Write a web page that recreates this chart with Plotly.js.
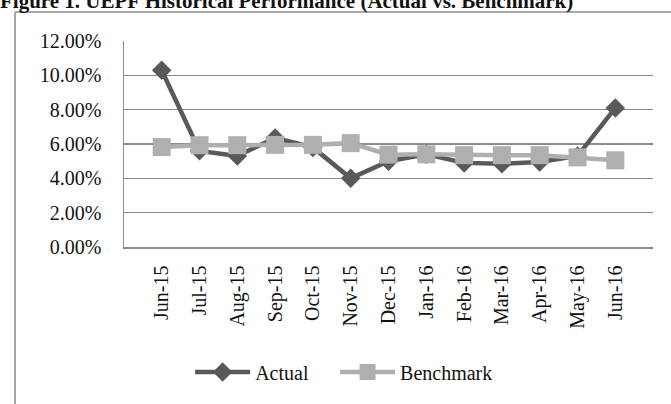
<!DOCTYPE html>
<html>
<head>
<meta charset="utf-8">
<script src="https://cdn.plot.ly/plotly-3.0.1.min.js"></script>
<style>html,body{margin:0;padding:0;background:#fff;}#chart{width:671px;height:404px;}</style>
</head>
<body>
<div id="chart"></div>
<script>
const months = ["Jun-15","Jul-15","Aug-15","Sep-15","Oct-15","Nov-15","Dec-15","Jan-16","Feb-16","Mar-16","Apr-16","May-16","Jun-16"];
const actual = [0.1030,0.0560,0.0530,0.0635,0.0580,0.0400,0.0500,0.0540,0.0490,0.0485,0.0495,0.0530,0.0810];
const benchmark = [0.0582,0.0593,0.0593,0.0595,0.0595,0.0605,0.0538,0.0540,0.0535,0.0535,0.0535,0.0522,0.0505];
const yTicks = [0,0.02,0.04,0.06,0.08,0.10,0.12];
const titleText = "Figure 1. UEPF Historical Performance (Actual vs. Benchmark)";

const serif = "Liberation Serif, Times New Roman, serif";

const traces = [
  {x: months, y: actual, name: "Actual", type: "scatter", mode: "lines+markers",
   legend: "legend",
   line: {color: "#595959", width: 4.5},
   marker: {symbol: "diamond", size: 15, color: "#595959"}},
  {x: months, y: benchmark, name: "Benchmark", type: "scatter", mode: "lines+markers",
   legend: "legend2",
   line: {color: "#AFAFAF", width: 4.5},
   marker: {symbol: "square", size: 18, color: "#AFAFAF"}}
];

const legendBase = {orientation: "h", xanchor: "left", y: -0.607, yanchor: "middle",
  font: {family: serif, size: 20, color: "#111"}, itemwidth: 55, bgcolor: "rgba(0,0,0,0)"};

const layout = {
  width: 671, height: 404,
  margin: {l: 124, r: 18, t: 41, b: 157},
  paper_bgcolor: "#fff", plot_bgcolor: "#fff",
  font: {family: serif, size: 20, color: "#111"},
  showlegend: true,
  title: {text: "<b>" + titleText + "</b>", x: 0, xref: "container", xanchor: "left",
          y: 1 - 1/404, yref: "container", yanchor: "middle",
          font: {family: serif, size: 21, color: "#111"}},
  xaxis: {type: "category", tickangle: -90, ticks: "", showgrid: false,
          showline: true, linecolor: "#8a8a8a", linewidth: 1.5,
          ticklabelstandoff: 9, fixedrange: true,
          tickfont: {family: serif, size: 20, color: "#111"}},
  yaxis: {range: [0, 0.12], tickvals: yTicks, tickformat: ".2%",
          showgrid: true, gridcolor: "#8a8a8a", gridwidth: 1.5,
          showline: true, linecolor: "#8a8a8a", linewidth: 1.5,
          zeroline: false, ticks: "", ticklabelstandoff: 17, fixedrange: true,
          tickfont: {family: serif, size: 20, color: "#111"}},
  legend: Object.assign({}, legendBase, {x: 0.125}),
  legend2: Object.assign({}, legendBase, {x: 0.399}),
  shapes: [
    {type: "line", xref: "paper", yref: "paper", x0: -0.206, x1: 2, y0: 1.1408, y1: 1.1408,
     line: {color: "#8c8c8c", width: 1.5}},
    {type: "line", xref: "paper", yref: "paper", x0: -0.206, x1: -0.206, y0: 1.1408, y1: -2,
     line: {color: "#8c8c8c", width: 1.5}}
  ]
};

Plotly.newPlot("chart", traces, layout, {displayModeBar: false, staticPlot: true});
</script>
</body>
</html>
